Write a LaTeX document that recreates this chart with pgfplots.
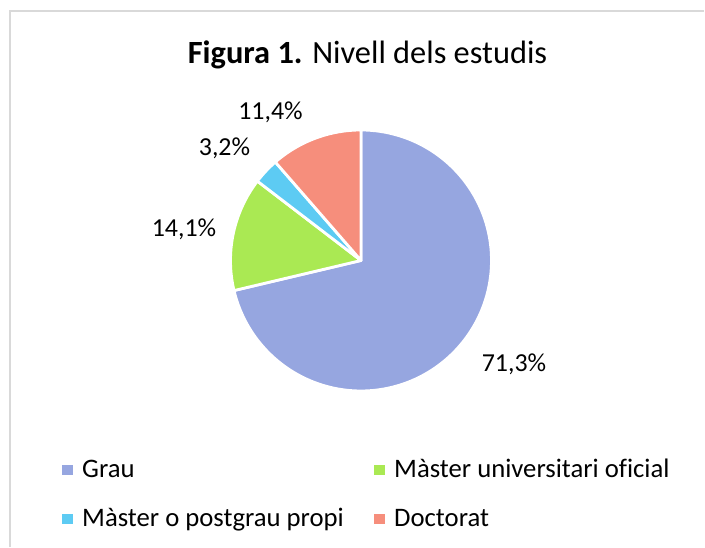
\documentclass[border=0pt]{standalone}
\usepackage{pgfplots}
\pgfplotsset{compat=1.18}
\usepackage{pgfplotstable}
\usepackage{fontspec}
\setmainfont{Carlito}[Ligatures=NoCommon]

\definecolor{cGrau}{HTML}{96A6E0}
\definecolor{cMuo}{HTML}{AAE953}
\definecolor{cMpp}{HTML}{5DCBF3}
\definecolor{cDoc}{HTML}{F68E7C}
\definecolor{cFrame}{HTML}{D9D9D9}

\pgfplotstableread{
value
71.3
14.1
3.2
11.4
}\piedata

\pgfplotstablegetelem{0}{value}\of\piedata \let\vA\pgfplotsretval
\pgfplotstablegetelem{1}{value}\of\piedata \let\vB\pgfplotsretval
\pgfplotstablegetelem{2}{value}\of\piedata \let\vC\pgfplotsretval
\pgfplotstablegetelem{3}{value}\of\piedata \let\vD\pgfplotsretval

\pgfmathsetmacro\sA{90}
\pgfmathsetmacro\sB{\sA-3.6*\vA}
\pgfmathsetmacro\sC{\sB-3.6*\vB}
\pgfmathsetmacro\sD{\sC-3.6*\vC}
\pgfmathsetmacro\sE{\sD-3.6*\vD}

\def\cx{361}
\def\cy{286.5}
\def\rr{130.5}

\begin{document}
\begin{tikzpicture}
\begin{axis}[
  scale only axis, width=705bp, height=547bp,
  xmin=0, xmax=705, ymin=0, ymax=547,
  hide axis, clip=false,
]
% background and frame
\addplot[fill=white, draw=none] coordinates {(0,0) (705,0) (705,547) (0,547)} -- cycle;
\addplot[draw=cFrame, line width=1.5bp] coordinates {(10,0) (10,536) (704,536)};

% pie slices
\addplot[fill=cGrau, draw=white, line width=2.8bp, line join=round, domain=\sB:\sA, samples=120, variable=\t]
  ({\cx+\rr*cos(\t)},{\cy+\rr*sin(\t)}) -- (\cx,\cy) -- cycle;
\addplot[fill=cMuo, draw=white, line width=2.8bp, line join=round, domain=\sC:\sB, samples=40, variable=\t]
  ({\cx+\rr*cos(\t)},{\cy+\rr*sin(\t)}) -- (\cx,\cy) -- cycle;
\addplot[fill=cMpp, draw=white, line width=2.8bp, line join=round, domain=\sD:\sC, samples=15, variable=\t]
  ({\cx+\rr*cos(\t)},{\cy+\rr*sin(\t)}) -- (\cx,\cy) -- cycle;
\addplot[fill=cDoc, draw=white, line width=2.8bp, line join=round, domain=\sE:\sD, samples=40, variable=\t]
  ({\cx+\rr*cos(\t)},{\cy+\rr*sin(\t)}) -- (\cx,\cy) -- cycle;

% title
\node[anchor=base, font=\fontsize{32.5}{38}\selectfont, inner sep=0pt] at (367.5,483.7)
  {\textbf{Figura 1.} Nivell dels estudis};

% data labels
\begin{scope}[every node/.style={anchor=base, inner sep=0pt, font=\fontsize{26}{30}\selectfont}]
\node at (514,175) {71,3\%};
\node at (184,310) {14,1\%};
\node at (224.5,391) {3,2\%};
\node at (270.5,427) {11,4\%};
\end{scope}

% legend
\addplot[fill=cGrau, draw=none] coordinates {(62,71.5) (72.5,71.5) (72.5,82) (62,82)} -- cycle;
\addplot[fill=cMuo, draw=none] coordinates {(374,71.5) (384.5,71.5) (384.5,82) (374,82)} -- cycle;
\addplot[fill=cMpp, draw=none] coordinates {(62,22.5) (72.5,22.5) (72.5,33) (62,33)} -- cycle;
\addplot[fill=cDoc, draw=none] coordinates {(374,22.5) (384.5,22.5) (384.5,33) (374,33)} -- cycle;
\begin{scope}[every node/.style={anchor=base west, inner sep=0pt, font=\fontsize{26.8}{31}\selectfont}]
\node at (82,69.3) {Grau};
\node at (394,69.3) {Màster universitari oficial};
\node at (82,20.3) {Màster o postgrau propi};
\node at (394,20.3) {Doctorat};
\end{scope}
\end{axis}
\end{tikzpicture}
\end{document}
